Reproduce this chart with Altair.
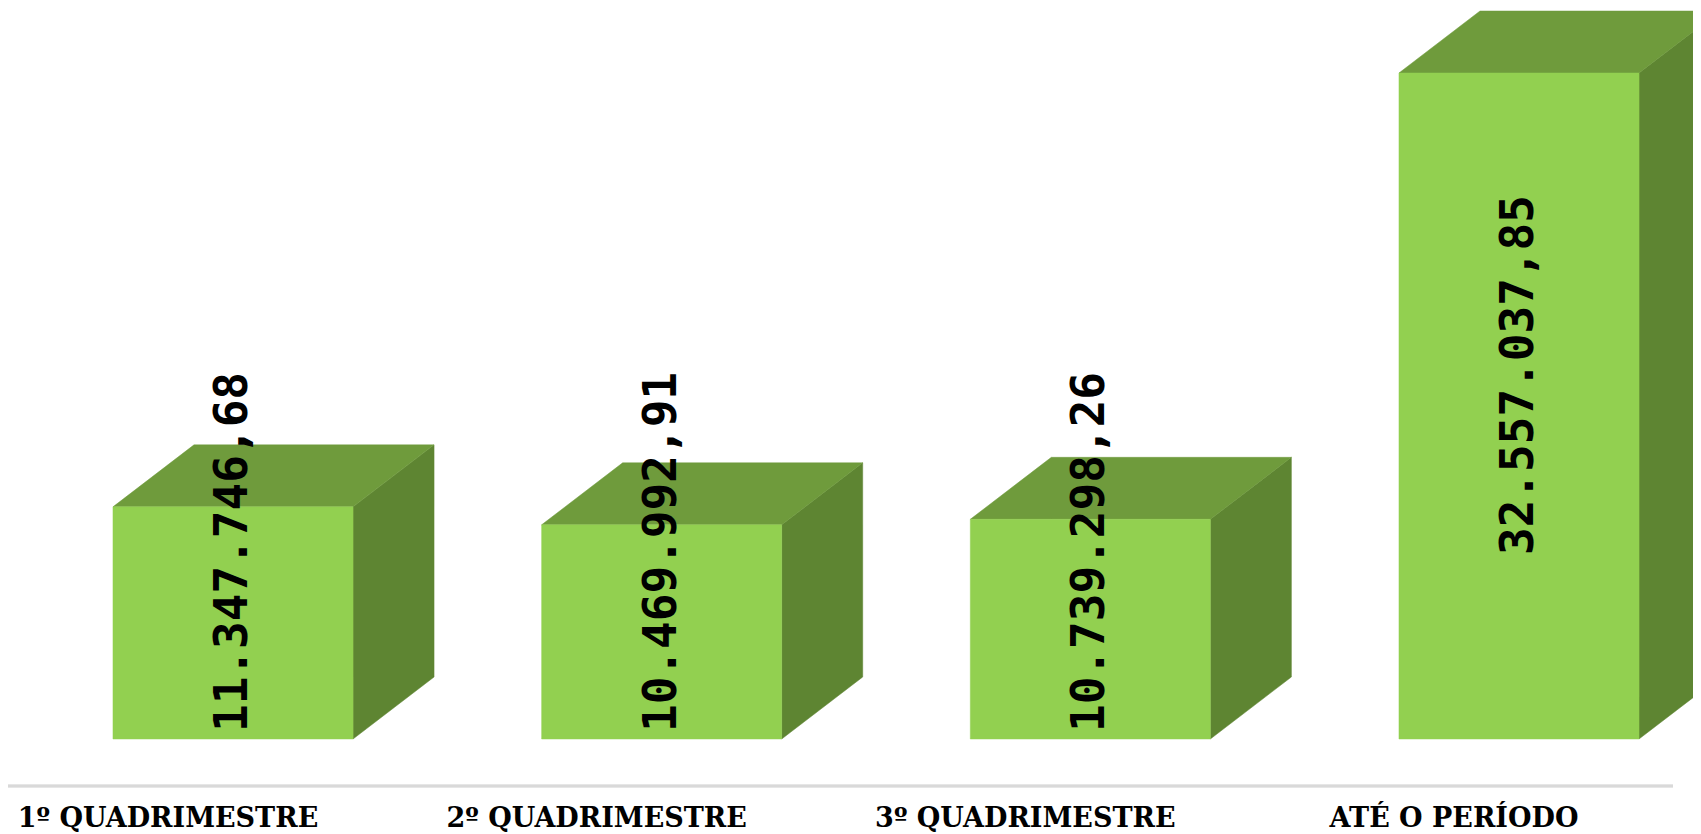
import altair as alt
import pandas as pd

categories = ["1º QUADRIMESTRE", "2º QUADRIMESTRE", "3º QUADRIMESTRE", "ATÉ O PERÍODO"]
values = [11347746.68, 10469992.91, 10739298.26, 32557037.85]


def fmt_br(v):
    s = f"{v:,.2f}"
    return s.replace(",", "X").replace(".", ",").replace("X", ".")


labels = [fmt_br(v) for v in values]

df = pd.DataFrame({
    "cat": categories,
    "value": values,
    "label": labels,
    "idx": list(range(len(categories))),
})

W = 0.28      # half width of the front face (x units)
DX = 0.189    # depth offset along x
DY = 3031000  # depth offset along y (value units)

xscale = alt.Scale(domain=[-0.5249, 3.4059], nice=False, zero=False)
yscale = alt.Scale(domain=[0, 35735000], nice=False, zero=True)

FRONT = "#92D050"
TOP = "#6F9B3C"
SIDE = "#5E8532"

base = alt.Chart(df)

front = base.transform_calculate(
    x0=f"datum.idx - {W}", x1=f"datum.idx + {W}", zero="0"
).mark_rect(color=FRONT, stroke=FRONT, strokeWidth=0.5).encode(
    x=alt.X("x0:Q", scale=xscale, axis=None),
    x2="x1:Q",
    y=alt.Y("value:Q", scale=yscale, axis=None),
    y2="zero:Q",
)

side = base.transform_calculate(
    k="[0, 1]"
).transform_flatten(["k"]).transform_calculate(
    vx=f"datum.idx + {W} + datum.k * {DX}",
    lo=f"datum.k * {DY}",
    hi=f"datum.value + datum.k * {DY}",
).mark_area(color=SIDE, stroke=SIDE, strokeWidth=0.5, orient="vertical", interpolate="linear").encode(
    x=alt.X("vx:Q", scale=xscale, axis=None),
    y=alt.Y("lo:Q", scale=yscale, axis=None),
    y2="hi:Q",
    detail="cat:N",
)

top = base.transform_calculate(
    k="[0, 1, 2, 3]"
).transform_flatten(["k"]).transform_calculate(
    vx=f"datum.idx - {W} + ((datum.k == 1 || datum.k == 3) ? {DX} : 0) + (datum.k >= 2 ? {2 * W} : 0)",
    lo=f"datum.k < 3 ? datum.value : datum.value + {DY}",
    hi=f"datum.k == 0 ? datum.value : datum.value + {DY}",
).mark_area(color=TOP, stroke=TOP, strokeWidth=0.5, orient="vertical", interpolate="linear").encode(
    x=alt.X("vx:Q", scale=xscale, axis=None),
    y=alt.Y("lo:Q", scale=yscale, axis=None),
    y2="hi:Q",
    detail="cat:N",
)

value_text = base.transform_calculate(
    lp=f"max((datum.value + {DY}) / 2, 9142000)"
).mark_text(
    angle=270, align="center", baseline="middle",
    font="DejaVu Sans Mono", fontWeight="bold", fontSize=46, color="#000000",
).encode(
    x=alt.X("idx:Q", scale=xscale, axis=None),
    y=alt.Y("lp:Q", scale=yscale, axis=None),
    text="label:N",
)

cat_text = base.mark_text(
    align="center", baseline="alphabetic", dx=-65,
    font="DejaVu Serif", fontWeight="bold", fontSize=27, color="#000000",
).encode(
    x=alt.X("idx:Q", scale=xscale, axis=None),
    y=alt.value(819),
    text="cat:N",
)

axis_line = base.mark_rule(color="#D9D9D9", strokeWidth=2.5).encode(
    x=alt.value(-8), x2=alt.value(1665), y=alt.value(778)
)

chart = alt.layer(axis_line, side, top, front, value_text, cat_text).properties(
    width=1685, height=731,
    background="white",
    autosize=alt.AutoSizeParams(type="none"),
    padding={"left": 0, "top": 0, "right": 0, "bottom": 95},
).configure_view(strokeWidth=0, stroke="transparent")

chart.save("out.html", embed_options={"renderer": "svg", "actions": False})
